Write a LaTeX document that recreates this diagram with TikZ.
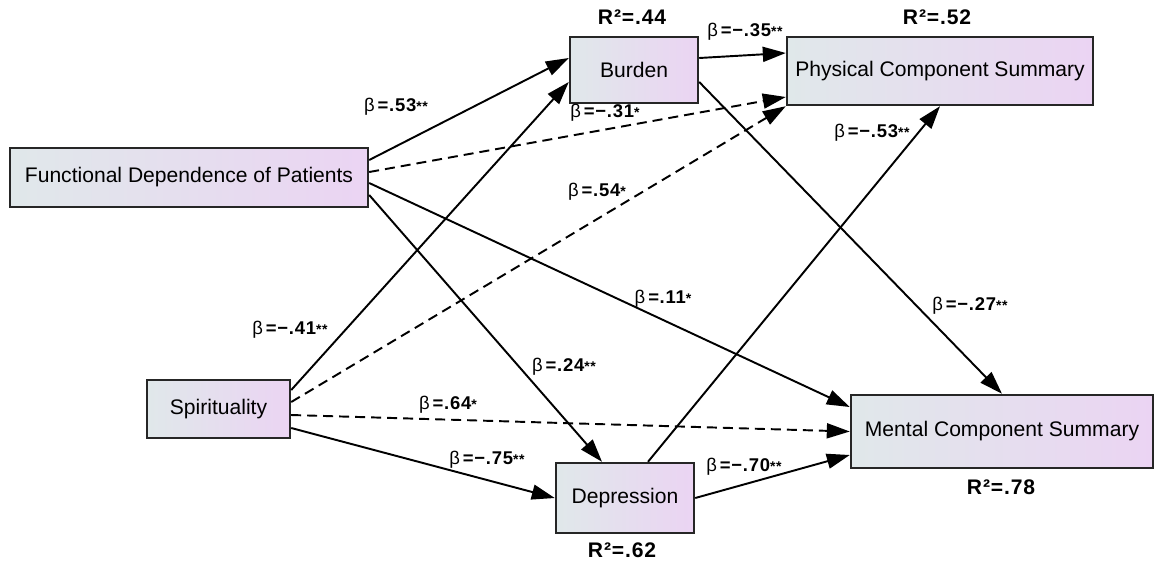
\documentclass[tikz,border=0pt]{standalone}
\usepackage{fontspec}
\setmainfont{Liberation Sans}
\usepackage{xcolor}
\usepackage{tikz}
\usetikzlibrary{arrows.meta}

\definecolor{boxleft}{RGB}{224,232,234}
\definecolor{boxright}{RGB}{235,212,243}
\definecolor{boxline}{RGB}{38,38,38}
\newcommand{\sg}[1]{{\fontsize{8}{9}\selectfont #1}}
\newcommand{\bt}{\textmd{β}\hspace{0.12em}}

\begin{document}
\begin{tikzpicture}[x=0.02cm,y=0.02cm,
  var/.style={draw=boxline, line width=1.4pt, left color=boxleft, right color=boxright,
    inner sep=0pt, font=\fontsize{12}{14}\selectfont},
  eff/.style={line width=1.1pt, -{Triangle[length=0.46cm,width=0.3cm]}},
  neff/.style={eff, dash pattern=on 0.2cm off 0.12cm},
  coef/.style={font=\bfseries\fontsize{10.5}{12}\selectfont\addfontfeature{LetterSpace=4}},
  rsq/.style={font=\bfseries\fontsize{12}{14}\selectfont\addfontfeature{LetterSpace=4}}]
\useasboundingbox (0,0) rectangle (1155,-562);

\node[var, minimum width=7.16cm, minimum height=1.18cm] (fdp) at (189,-177.5) {Functional Dependence of Patients};
\node[var, minimum width=2.56cm, minimum height=1.32cm] (bur) at (634,-70) {Burden};
\node[var, minimum width=6.12cm, minimum height=1.36cm] (pcs) at (940,-71) {Physical Component Summary};
\node[var, minimum width=2.86cm, minimum height=1.16cm] (spi) at (218.5,-409) {Spirituality};
\node[var, minimum width=2.76cm, minimum height=1.4cm] (dep) at (625,-498) {Depression};
\node[var, minimum width=6.04cm, minimum height=1.46cm] (mcs) at (1002,-431.5) {Mental Component Summary};

% paths
\draw[eff] ([yshift=0.35cm]fdp.east) -- ([yshift=0.24cm]bur.west);
\draw[neff] ([yshift=0.11cm]fdp.east) -- ([yshift=-0.52cm]pcs.west);
\draw[eff] ([yshift=-0.11cm]fdp.east) -- ([yshift=0.49cm]mcs.west);
\draw[eff] ([yshift=-0.35cm]fdp.east) -- ([xshift=-0.46cm]dep.north);
\draw[eff] ([yshift=0.38cm]spi.east) -- ([yshift=-0.24cm]bur.west);
\draw[neff] ([yshift=0.14cm]spi.east) -- (pcs.south west);
\draw[neff] ([yshift=-0.12cm]spi.east) -- (mcs.west);
\draw[eff] ([yshift=-0.38cm]spi.east) -- (dep.west);
\draw[eff] ([yshift=0.24cm]bur.east) -- ([yshift=0.36cm]pcs.west);
\draw[eff] ([yshift=-0.24cm]bur.east) -- (mcs.north);
\draw[eff] ([xshift=0.46cm]dep.north) -- (pcs.south);
\draw[eff] (dep.east) -- ([yshift=-0.47cm]mcs.west);

% coefficients
\foreach \nm/\px/\py/\txt in {
  b53/396/107/{\bt=.53\sg{**}},
  b31/605/113/{\bt=−.31\sg{*}},
  b35/745/32/{\bt=−.35\sg{**}},
  b53n/872/133/{\bt=−.53\sg{**}},
  b54/597/192/{\bt=.54\sg{*}},
  b11/663/299/{\bt=.11\sg{*}},
  b27/970/306/{\bt=−.27\sg{**}},
  b24/564/367/{\bt=.24\sg{**}},
  b41/290/330/{\bt=−.41\sg{**}},
  b64/448/405/{\bt=.64\sg{*}},
  b75/487/460/{\bt=−.75\sg{**}},
  b70/744/467/{\bt=−.70\sg{**}}}
  \node[coef] (\nm) at (\px,-\py) {\txt};

% explained variance
\node[rsq] (r44) at (632,-17) {R²=.44};
\node[rsq] (r52) at (937,-17) {R²=.52};
\node[rsq] (r62) at (622,-550) {R²=.62};
\node[rsq] (r78) at (1001,-487) {R²=.78};
\end{tikzpicture}
\end{document}
